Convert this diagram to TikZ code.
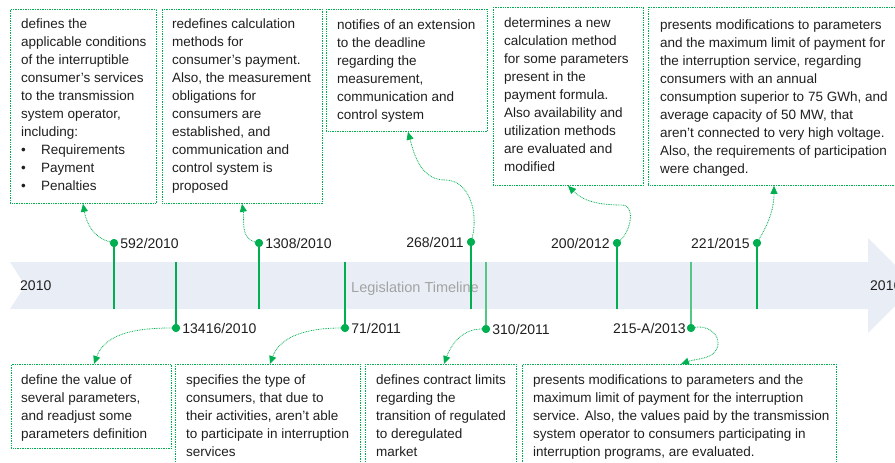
\documentclass[tikz,border=0pt]{standalone}
\usepackage{fontspec}
\setmainfont{Liberation Sans}
\usetikzlibrary{arrows.meta}
\definecolor{gr}{HTML}{00B050}
\definecolor{grl}{HTML}{55C686}
\definecolor{bandc}{HTML}{E9EEF6}
\definecolor{txtc}{HTML}{1F1F1F}
\definecolor{graytxt}{HTML}{A3A3A3}
\begin{document}
\begin{tikzpicture}[x=1pt,y=1pt,
  box/.style 2 args={draw=gr, line width=0.8pt, dash pattern=on 0.8pt off 0.9pt,
    minimum width=#1, minimum height=#2, anchor=north west, inner sep=0pt},
  txt/.style={anchor=north west, inner sep=0pt, align=left, text=txtc,
    font=\fontsize{13.5}{18}\selectfont},
  dot/.style={circle, fill=gr, inner sep=0pt, minimum size=8pt},
  lab/.style={inner sep=0pt, text=txtc, font=\fontsize{14}{16}\selectfont},
  yr/.style={inner sep=0pt, text=txtc, font=\fontsize{14}{16}\selectfont, anchor=west},
  ttl/.style={inner sep=0pt, text=graytxt, font=\fontsize{14.5}{16}\selectfont},
  tick/.style={draw=gr, line width=1.2pt},
  tickl/.style={draw=grl, line width=1.2pt},
  conn/.style={draw=gr, line width=0.8pt, dash pattern=on 0.8pt off 0.9pt,
    -{Triangle[length=8pt,width=7pt]}}
]
\useasboundingbox (0,0) rectangle (895,-463);
\clip (0,0) rectangle (895,-463);

% timeline band
\fill[bandc] (10,-262) -- (868,-262) -- (868,-238) -- (915.5,-285.5) -- (868,-333)
  -- (868,-309) -- (10,-309) -- (25,-285.5) -- cycle;
\node[yr] (y0) at (20,-285.5) {2010};
\node[yr] (y1) at (870,-285.5) {2016};
\node[ttl] (tl) at (415,-289) {Legislation Timeline};

% boxes
\node[box={146pt}{194pt}] (b1) at (10,-9) {};
\node[box={160pt}{194pt}] (b2) at (162,-9) {};
\node[box={161pt}{122pt}] (b3) at (326,-9) {};
\node[box={150pt}{178pt}] (b4) at (493,-7) {};
\node[box={262pt}{178pt}] (b5) at (648,-7) {};
\node[box={160pt}{84pt}] (b6) at (11,-364) {};
\node[box={185pt}{130pt}] (b7) at (175,-364) {};
\node[box={151pt}{130pt}] (b8) at (365,-364) {};
\node[box={314pt}{130pt}] (b9) at (522,-364) {};

% texts
\node[txt] (t1) at (21,-19) {defines the\\ applicable conditions\\ of the interruptible\\ consumer’s services\\ to the transmission\\ system operator,\\ including:\\
  \makebox[20pt][l]{\textbullet}Requirements\\ \makebox[20pt][l]{\textbullet}Payment\\ \makebox[20pt][l]{\textbullet}Penalties};
\node[txt] (t2) at (172,-19) {redefines calculation\\ methods for\\ consumer’s payment.\\ Also, the measurement\\ obligations for\\ consumers are\\ established, and\\ communication and\\ control system is\\ proposed};
\node[txt] (t3) at (337,-20) {notifies of an extension\\ to the deadline\\ regarding the\\ measurement,\\ communication and\\ control system};
\node[txt] (t4) at (504,-18) {determines a new\\ calculation method\\ for some parameters\\ present in the\\ payment formula.\\ Also availability and\\ utilization methods\\ are evaluated and\\ modified};
\node[txt] (t5) at (660,-20) {presents modifications to parameters\\ and the maximum limit of payment for\\ the interruption service, regarding\\ consumers with an annual\\ consumption superior to 75 GWh, and\\ average capacity of 50 MW, that\\ aren’t connected to very high voltage.\\ Also, the requirements of participation\\ were changed.};
\node[txt] (t6) at (21,-375) {define the value of\\ several parameters,\\ and readjust some\\ parameters definition};
\node[txt] (t7) at (186,-375) {specifies the type of\\ consumers, that due to\\ their activities, aren’t able\\ to participate in interruption\\ services};
\node[txt] (t8) at (376,-375) {defines contract limits\\ regarding the\\ transition of regulated\\ to deregulated\\ market};
\node[txt] (t9) at (533,-375) {presents modifications to parameters and the\\ maximum limit of payment for the interruption\\ service. Also, the values paid by the transmission\\ system operator to consumers participating in\\ interruption programs, are evaluated.};

% tick ends on band
\coordinate (e1) at (114,-309);
\coordinate (e2) at (259,-309);
\coordinate (e3) at (471,-309);
\coordinate (e4) at (617,-309);
\coordinate (e5) at (757,-309);
\coordinate (e6) at (176,-262);
\coordinate (e7) at (345,-262);
\coordinate (e8) at (486,-262);
\coordinate (e9) at (691,-262);

% dots
\node[dot] (d1) at (114,-243) {};
\node[dot] (d2) at (259,-243) {};
\node[dot] (d3) at (471,-242) {};
\node[dot] (d4) at (617,-243) {};
\node[dot] (d5) at (757,-243) {};
\node[dot] (d6) at (176,-328) {};
\node[dot] (d7) at (345,-328) {};
\node[dot] (d8) at (486,-329) {};
\node[dot] (d9) at (691,-328) {};

\draw[tick] (d1.center) -- (e1);
\draw[tick] (d2.center) -- (e2);
\draw[tick] (d3.center) -- (e3);
\draw[tick] (d4.center) -- (e4);
\draw[tick] (d5.center) -- (e5);
\draw[tick] (d6.center) -- (e6);
\draw[tick] (d7.center) -- (e7);
\draw[tickl] (d8.center) -- (e8);
\draw[tickl] (d9.center) -- (e9);
\foreach \d in {d1,d2,d3,d4,d5,d6,d7,d8,d9} \fill[gr] (\d) circle (4pt);

% labels
\node[lab, anchor=west] (l1) at ([xshift=2pt]d1.east) {592/2010};
\node[lab, anchor=west] (l2) at ([xshift=2pt]d2.east) {1308/2010};
\node[lab, anchor=east] (l3) at ([xshift=-3pt]d3.west) {268/2011};
\node[lab, anchor=east] (l4) at ([xshift=-3pt]d4.west) {200/2012};
\node[lab, anchor=east] (l5) at ([xshift=-3pt]d5.west) {221/2015};
\node[lab, anchor=west] (l6) at ([xshift=2pt]d6.east) {13416/2010};
\node[lab, anchor=west] (l7) at ([xshift=2pt]d7.east) {71/2011};
\node[lab, anchor=west] (l8) at ([xshift=2pt]d8.east) {310/2011};
\node[lab, anchor=east] (l9) at ([xshift=-1pt]d9.west) {215-A/2013};

% connectors
\draw[conn] (d1) to[out=165,in=-80] ([xshift=73pt]b1.south west);
\draw[conn] (d2) to[out=165,in=-80] ([xshift=80pt]b2.south west);
\draw[conn] (d3) to[out=75,in=0] (445,-180) to[out=180,in=-75] ([xshift=82pt]b3.south west);
\draw[conn] (d4) to[out=40,in=0] (622,-205) to[out=180,in=-45] ([xshift=75pt]b4.south west);
\draw[conn] (d5) to[out=60,in=-90] ([xshift=126pt]b5.south west);
\draw[conn] (d6) to[out=180,in=70] ([xshift=83pt]b6.north west);
\draw[conn] (d7) to[out=180,in=70] ([xshift=95pt]b7.north west);
\draw[conn] (d8) to[out=180,in=70] ([xshift=79pt]b8.north west);
\draw[conn] (d9) to[out=10,in=90] (718,-343) to[out=-90,in=20] ([xshift=159pt]b9.north west);
\end{tikzpicture}
\end{document}
